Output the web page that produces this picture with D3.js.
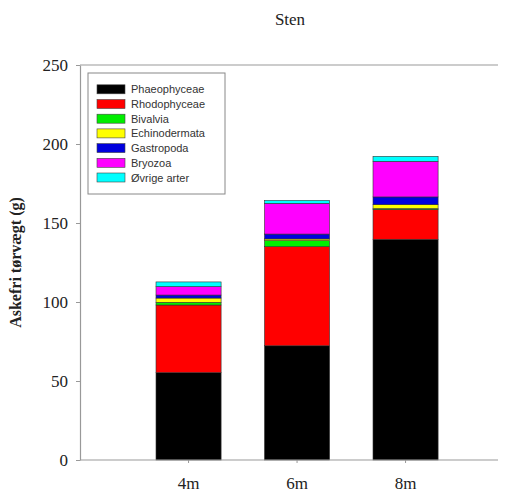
<!DOCTYPE html>
<html>
<head>
<meta charset="utf-8">
<script src="https://cdn.jsdelivr.net/npm/d3@7"></script>
<style>
  body { margin: 0; background: #fff; }
  svg { display: block; }
</style>
</head>
<body>
<div id="chart"></div>
<script>
// data
var sites = ["4m", "6m", "8m"];
var groups = ["Phaeophyceae", "Rhodophyceae", "Bivalvia", "Echinodermata", "Gastropoda", "Bryozoa", "Øvrige arter"];
var colors = ["#000000", "#ff0000", "#00ee00", "#ffff00", "#0000dd", "#ff00ff", "#00ffff"];
var phaeophyceae = [55.3, 72.3, 139.7];
var rhodophyceae = [42.8, 62.7, 18.9];
var bivalvia = [1.7, 3.8, 0.5];
var echinodermata = [2.7, 1.1, 2.5];
var gastropoda = [1.9, 3.1, 4.9];
var bryozoa = [5.3, 19.4, 22.5];
var ovrige = [3.0, 1.9, 3.2];
var yTicks = [0, 50, 100, 150, 200, 250];

var W = 507, H = 492;
var plotLeft = 80, plotRight = 498, plotTop = 65, plotBottom = 460;

var svg = d3.select("#chart").append("svg")
    .attr("width", W).attr("height", H);

// table for the stack
var series = [phaeophyceae, rhodophyceae, bivalvia, echinodermata, gastropoda, bryozoa, ovrige];
var table = sites.map(function(s, i){
    var row = {site: s};
    groups.forEach(function(g, j){ row[g] = series[j][i]; });
    return row;
});
var stacked = d3.stack().keys(groups)(table);

var x = d3.scaleBand().domain(sites)
    .range([101.75, 492.35])
    .paddingInner(0.4).paddingOuter(0.5);
var y = d3.scaleLinear().domain([0, 250]).range([plotBottom, plotTop]);

// bars
svg.append("g").selectAll("g")
    .data(stacked)
    .enter().append("g")
    .attr("fill", function(d, i){ return colors[i]; })
    .selectAll("rect")
    .data(function(d){ return d; })
    .enter().append("rect")
    .attr("x", function(d){ return x(d.data.site); })
    .attr("width", x.bandwidth())
    .attr("y", function(d){ return y(d[1]); })
    .attr("height", function(d){ return y(d[0]) - y(d[1]); })
    .attr("stroke", "#333")
    .attr("stroke-width", 0.6);

// frame: top line
svg.append("line").attr("x1", plotLeft).attr("x2", plotRight).attr("y1", plotTop).attr("y2", plotTop)
    .attr("stroke", "#999").attr("stroke-width", 1.2);

// y axis
var yAxis = svg.append("g")
    .attr("transform", "translate(" + plotLeft + ",0)")
    .call(d3.axisLeft(y).tickValues(yTicks).tickSize(4).tickPadding(8).tickSizeOuter(0));
yAxis.select(".domain").attr("stroke", "#999").attr("stroke-width", 1.2);
yAxis.selectAll(".tick line").attr("stroke", "#999");
yAxis.selectAll("text")
    .attr("font-family", "'Liberation Serif', 'Times New Roman', serif")
    .attr("font-size", 17).attr("fill", "#222");

// x axis
var xAxis = svg.append("g")
    .attr("transform", "translate(0," + plotBottom + ")")
    .call(d3.axisBottom(x).tickSize(3).tickPadding(14).tickSizeOuter(0));
xAxis.select(".domain").attr("d", "M" + plotLeft + ",0H" + plotRight)
    .attr("stroke", "#999").attr("stroke-width", 1.2);
xAxis.selectAll(".tick line").attr("stroke", "#999");
xAxis.selectAll("text")
    .attr("font-family", "'Liberation Serif', 'Times New Roman', serif")
    .attr("font-size", 17).attr("fill", "#222");

// title
svg.append("text")
    .attr("x", 290).attr("y", 25)
    .attr("text-anchor", "middle")
    .attr("font-family", "'Liberation Serif', 'Times New Roman', serif")
    .attr("font-size", 17).attr("fill", "#222")
    .text("Sten");

// y label
svg.append("text")
    .attr("transform", "translate(21," + ((plotTop + plotBottom) / 2) + ") rotate(-90)")
    .attr("text-anchor", "middle")
    .attr("font-family", "'Liberation Serif', 'Times New Roman', serif")
    .attr("font-weight", "bold")
    .attr("font-size", 16).attr("fill", "#222")
    .text("Askefri tørvægt (g)");

// legend
var legend = svg.append("g");
legend.append("rect")
    .attr("x", 88).attr("y", 73).attr("width", 137).attr("height", 121)
    .attr("fill", "#fff").attr("stroke", "#888").attr("stroke-width", 1);

var item = legend.selectAll("g.item")
    .data(groups)
    .enter().append("g")
    .attr("class", "item")
    .attr("transform", function(d, i){ return "translate(97," + (89.3 + i * 14.7) + ")"; });
item.append("rect")
    .attr("x", 0).attr("y", -4.5).attr("width", 28).attr("height", 9)
    .attr("fill", function(d, i){ return colors[i]; })
    .attr("stroke", "#444").attr("stroke-width", 0.6);
item.append("text")
    .attr("x", 34).attr("y", 4)
    .attr("font-family", "'Liberation Sans', Arial, sans-serif")
    .attr("font-size", 11).attr("fill", "#333")
    .text(function(d){ return d; });
</script>
</body>
</html>
